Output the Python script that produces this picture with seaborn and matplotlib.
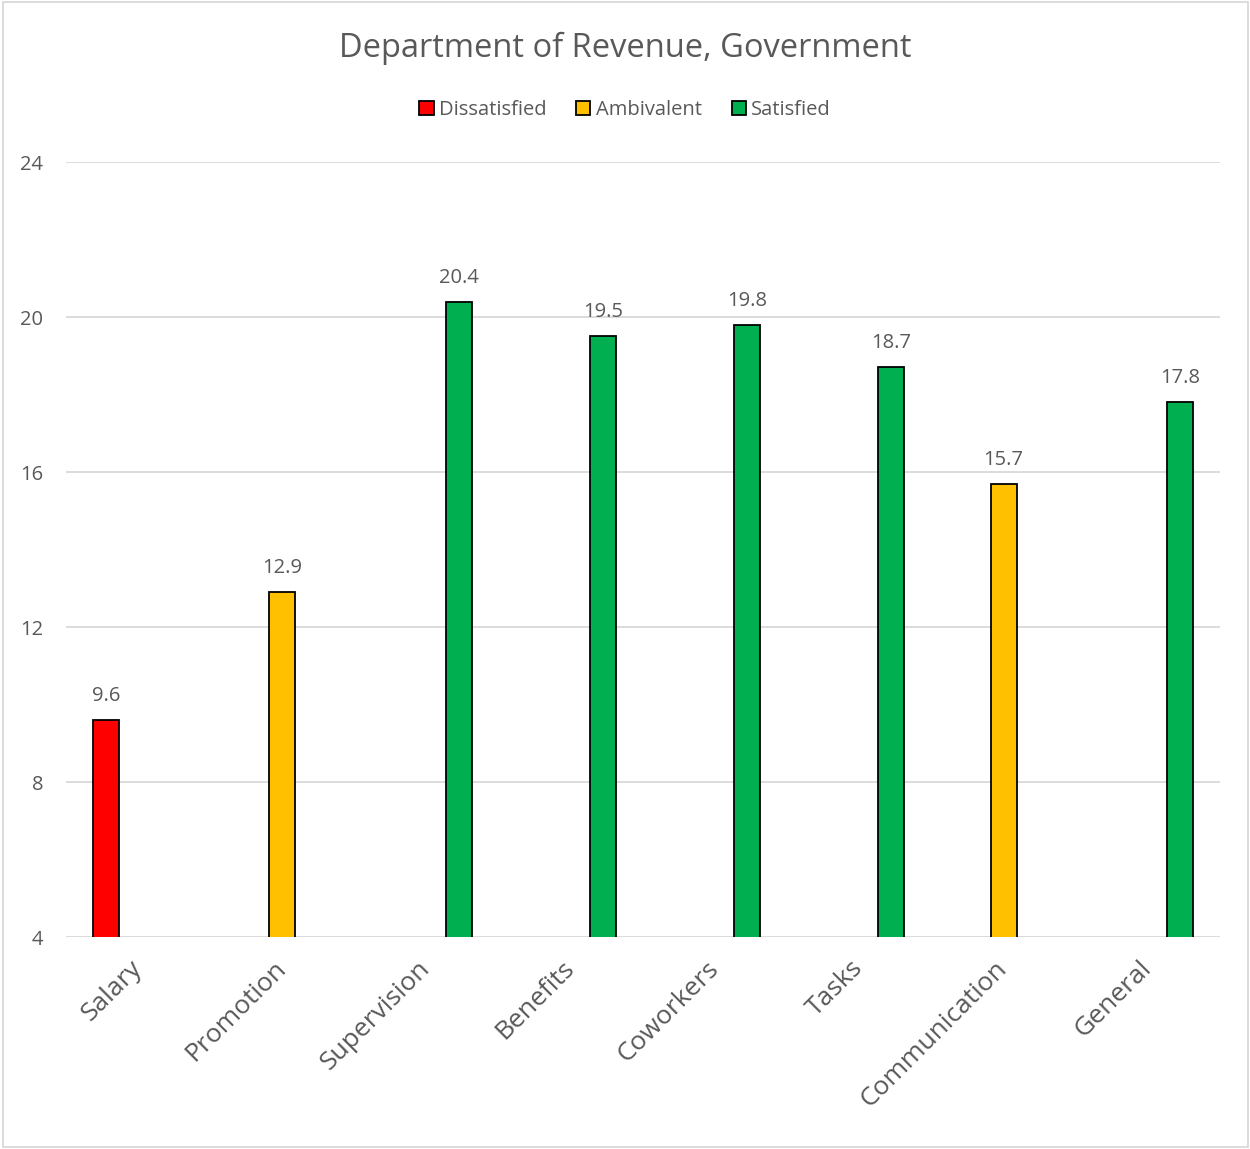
import matplotlib
matplotlib.use("Agg")
import matplotlib.pyplot as plt
import matplotlib.patches as mpatches
import seaborn as sns
import pandas as pd

categories = ["Salary", "Promotion", "Supervision", "Benefits",
              "Coworkers", "Tasks", "Communication", "General"]
scores = [9.6, 12.9, 20.4, 19.5, 19.8, 18.7, 15.7, 17.8]
ratings = ["Dissatisfied", "Ambivalent", "Satisfied", "Satisfied",
           "Satisfied", "Satisfied", "Ambivalent", "Satisfied"]
rating_levels = ["Dissatisfied", "Ambivalent", "Satisfied"]
rating_colors = {"Dissatisfied": "#FF0000", "Ambivalent": "#FFC000", "Satisfied": "#00B050"}
y_ticks = [4, 8, 12, 16, 20, 24]

df = pd.DataFrame({"Facet": categories, "Score": scores, "Rating": ratings})

sns.set_theme(style="white")
plt.rcParams["font.family"] = ["Open Sans", "DejaVu Sans"]
text_color = "#595959"
grid_color = "#D9D9D9"

fig = plt.figure(figsize=(12.5, 11.49), dpi=100)
ax = fig.add_axes([0.0528, 0.1845, 0.9232, 0.6745])

sns.barplot(data=df, x="Facet", y="Score", hue="Rating", order=categories,
            hue_order=rating_levels, palette=rating_colors, saturation=1, dodge=True,
            width=0.666, gap=0.19, edgecolor="black", linewidth=1.3,
            legend=False, ax=ax, zorder=3)

ax.set_ylim(4, 24)
ax.set_xlim(-0.5, len(categories) - 0.5)
ax.set_yticks(y_ticks)
ax.set_yticklabels([str(t) for t in y_ticks], fontsize=14.5, color=text_color)
ax.yaxis.grid(True, color=grid_color, linewidth=1.3, zorder=0)
ax.set_axisbelow(True)
for s in ax.spines.values():
    s.set_visible(False)
ax.tick_params(axis="y", length=0, pad=16.5)
ax.tick_params(axis="x", length=0, pad=20)
ax.set_xticks(range(len(categories)))
ax.set_xticklabels(categories, rotation=45, ha="right", va="center",
                   rotation_mode="anchor", fontsize=19, color=text_color)
ax.set_xlabel("")
ax.set_ylabel("")

for cont in ax.containers:
    ax.bar_label(cont, fmt="%.1f", padding=10, fontsize=14.5, color=text_color)

fig.text(0.5, 0.958, "Department of Revenue, Government", ha="center", va="center",
         fontsize=23.5, color=text_color)

handles = [mpatches.Patch(facecolor=rating_colors[r], edgecolor="black", linewidth=1.3, label=r)
           for r in rating_levels]
leg = fig.legend(handles=handles, loc="center", bbox_to_anchor=(0.5, 0.904), ncol=3,
                 frameon=False, fontsize=14.5, handlelength=0.7, handleheight=0.7,
                 handletextpad=0.25, columnspacing=1.5)
for t in leg.get_texts():
    t.set_color(text_color)

fig.add_artist(mpatches.Rectangle((0.002, 0.002), 0.996, 0.996, transform=fig.transFigure,
                                  fill=False, edgecolor=grid_color, linewidth=1.3))

fig.savefig("out.png", dpi=100, facecolor="white")
